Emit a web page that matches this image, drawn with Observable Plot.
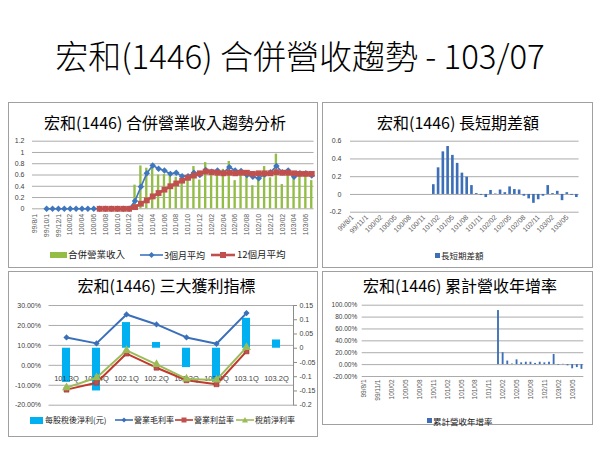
<!DOCTYPE html>
<html><head><meta charset="utf-8">
<script src="https://cdn.jsdelivr.net/npm/d3@7"></script>
<script src="https://cdn.jsdelivr.net/npm/@observablehq/plot@0.6"></script>
<style>
body{margin:0;background:#fff;width:600px;height:450px;position:relative;overflow:hidden;font-family:"Noto Sans CJK TC","Noto Sans",sans-serif;}
.panel{position:absolute;border:1px solid #a0a0a0;box-sizing:border-box;}
.ttl{position:absolute;white-space:nowrap;transform:translate(-50%,-50%);color:#000;line-height:1;}
.lg{position:absolute;white-space:nowrap;transform:translateY(-50%);color:#222;line-height:1;}
svg.sw{position:absolute;overflow:visible;}
</style></head><body>
<script>
// ---------- DATA ----------
const months = ["99/8/1","99/9/1","99/10/1","99/11/1","99/12/1",
"100/01","100/02","100/03","100/04","100/05","100/06","100/07","100/08","100/09","100/10","100/11","100/12",
"101/01","101/02","101/03","101/04","101/05","101/06","101/07","101/08","101/09","101/10","101/11","101/12",
"102/01","102/02","102/03","102/04","102/05","102/06","102/07","102/08","102/09","102/10","102/11","102/12",
"103/01","103/02","103/03","103/04","103/05","103/06","103/07"];
const ticks2m = ["99/8/1","99/10/1","99/12/1","100/02","100/04","100/06","100/08","100/10","100/12","101/02","101/04","101/06","101/08","101/10","101/12","102/02","102/04","102/06","102/08","102/10","102/12","103/02","103/04","103/06"];
const ticks3m = ["99/8/1","99/11/1","100/02","100/05","100/08","100/11","101/02","101/05","101/08","101/11","102/02","102/05","102/08","102/11","103/02","103/05"];
const N = null;
const revenue = [N,N,N,N,N,N,N,N,N,N,N,N,N,N,N,N,N,
0.42,0.76,0.72,0.78,0.60,0.61,0.63,0.56,0.57,0.60,0.75,0.51,
0.82,0.64,0.68,0.70,0.84,0.50,0.68,0.62,0.41,0.66,0.75,0.55,
0.97,0.43,0.62,0.60,0.65,0.64,0.50];
const avg3 = [N,N,0,0,0,0,0,0,0,0,0,0,0,0,0,0,0,
0.14,0.39,0.63,0.77,0.71,0.68,0.62,0.64,0.58,0.58,0.64,0.60,
0.69,0.66,0.68,0.64,0.74,0.68,0.67,0.60,0.57,0.54,0.61,0.65,
0.76,0.65,0.68,0.57,0.63,0.63,0.59];
const avg12 = [N,N,N,N,N,N,N,N,N,N,N,0,0,0,0,0,0,
0.03,0.09,0.15,0.22,0.28,0.34,0.40,0.45,0.50,0.55,0.59,0.63,
0.66,0.65,0.64,0.63,0.64,0.63,0.64,0.64,0.62,0.63,0.63,0.63,
0.65,0.64,0.64,0.63,0.62,0.62,0.62];
const diff = [N,N,N,N,N,N,N,N,N,N,N,N,N,N,N,N,N,
0.11,0.30,0.48,0.54,0.44,0.35,0.24,0.195,0.10,0.01,-0.01,-0.035,
0.045,0.005,0.05,0.02,0.085,0.055,0.05,-0.02,-0.05,-0.10,-0.06,-0.02,
0.10,0.01,0.035,-0.07,0.02,-0.01,-0.035];
const cumYoY = [N,N,N,N,N,N,N,N,N,N,N,N,N,N,N,N,N,N,N,N,N,N,N,N,N,N,N,N,N,
0.91,0.20,0.06,0.01,0.08,0.03,0.04,0.04,0.02,0.04,0.03,0.04,
0.17,-0.01,0.005,-0.02,-0.07,-0.05,-0.08];

const quarters = ["101.3Q","101.4Q","102.1Q","102.2Q","102.3Q","102.4Q","103.1Q","103.2Q"];
const eps   = [-0.12,-0.15,0.09,0.02,-0.068,-0.12,0.105,0.029];
const gross = [0.14,0.11,0.255,0.205,0.14,0.108,0.262,N];
const opm   = [-0.122,-0.087,0.059,-0.012,-0.075,-0.095,0.07,N];
const ptm   = [-0.112,-0.062,0.075,0.005,-0.068,-0.073,0.09,N];

const c1YTicks = [0,0.2,0.4,0.6,0.8,1,1.2];
const c2YTicks = [-0.2,0,0.2,0.4,0.6];
const c3LTicks = [-0.2,-0.1,0,0.1,0.2,0.3];
const c3RTicks = [-0.2,-0.15,-0.1,-0.05,0,0.05,0.1,0.15];
const c4YTicks = [-0.2,0,0.2,0.4,0.6,0.8,1];

// ---------- helpers ----------
const body = document.body;
function div(cls, css, html){const d=document.createElement("div");d.className=cls;Object.assign(d.style,css);if(html!=null)d.innerHTML=html;body.appendChild(d);return d;}
function place(svg,left,top){svg.style.position="absolute";svg.style.left=left+"px";svg.style.top=top+"px";body.appendChild(svg);}
function txt(x,y,s,size,extra){return div("lg",Object.assign({left:x+"px",top:y+"px",fontSize:size+"px"},extra||{}),s);}
function swatch(x,y,w,h,inner){const s=document.createElementNS("http://www.w3.org/2000/svg","svg");s.setAttribute("class","sw");s.setAttribute("width",w);s.setAttribute("height",h);s.style.left=x+"px";s.style.top=(y-h/2)+"px";s.innerHTML=inner;body.appendChild(s);}
const pct = d => (d*100).toFixed(2)+"%";
const str = d => String(d);
const baseStyle = {background:"transparent",overflow:"visible",fontFamily:"'Liberation Sans',Arial,sans-serif",fontSize:"7px",color:"#404040"};
const GRID = "#ababab";

// ---------- slide title & panels ----------
div("ttl",{left:"300px",top:"55px",fontSize:"33px",fontWeight:"300"},"宏和(1446) 合併營收趨勢 - 103/07");
div("panel",{left:"8px",top:"102px",width:"310px",height:"166px"});
div("panel",{left:"322px",top:"102px",width:"271px",height:"166px"});
div("panel",{left:"8px",top:"271px",width:"310px",height:"166px"});
div("panel",{left:"322px",top:"271px",width:"271px",height:"154px"});

// ---------- Chart 1 ----------
const d1 = months.map((m,i)=>({m, rev:revenue[i], a3:avg3[i], a12:avg12[i]}));
place(Plot.plot({
  width:310,height:166,marginLeft:24,marginRight:4.4,marginTop:38.7,marginBottom:59.7,
  style:baseStyle,
  x:{type:"band",domain:months,paddingInner:0.6,paddingOuter:0.2,axis:null},
  y:{domain:[0,1.2],axis:null},
  marks:[
    Plot.gridY(c1YTicks,{stroke:GRID,strokeOpacity:1}),
    Plot.axisY(c1YTicks,{tickSize:0,tickPadding:8,tickFormat:str,fontSize:7,label:null}),
    Plot.axisX(ticks2m,{tickSize:0,tickPadding:5,tickRotate:-90,fontSize:7,fill:"#595959",label:null}),
    Plot.barY(d1,{x:"m",y:"rev",fill:"#93bd45"}),
    Plot.line(d1,{x:"m",y:"a3",stroke:"#3f76bd",strokeWidth:1.6}),
    Plot.dot(d1,{x:"m",y:"a3",symbol:"diamond2",r:2.9,fill:"#3f76bd"}),
    Plot.line(d1,{x:"m",y:"a12",stroke:"#c0504d",strokeWidth:2.6}),
    Plot.dot(d1,{x:"m",y:"a12",symbol:"square",r:3.3,fill:"#c0504d"})
  ]}),8,102);
div("ttl",{left:"165px",top:"122px",fontSize:"16px"},"宏和(1446) 合併營業收入趨勢分析");
swatch(50,255,17,6,'<rect width="17" height="6" fill="#93bd45"/>');
txt(68,255,"合併營業收入",9.5);
swatch(140,255,23,8,'<line x1="0" y1="4" x2="23" y2="4" stroke="#3f76bd" stroke-width="1.6"/><path d="M11.5,1 L14.5,4 L11.5,7 L8.5,4Z" fill="#3f76bd"/>');
txt(164,255,"3個月平均",9);
swatch(211,255,24,8,'<line x1="0" y1="4" x2="24" y2="4" stroke="#c0504d" stroke-width="2.6"/><rect x="9" y="1" width="6" height="6" fill="#c0504d"/>');
txt(237,255,"12個月平均",9.5);

// ---------- Chart 2 ----------
const d2 = months.map((m,i)=>({m, v:diff[i]}));
place(Plot.plot({
  width:271,height:166,marginLeft:28,marginRight:14.4,marginTop:38.7,marginBottom:56.3,
  style:baseStyle,
  x:{type:"band",domain:months,paddingInner:0.45,paddingOuter:0.2,axis:null},
  y:{domain:[-0.2,0.6],axis:null},
  marks:[
    Plot.gridY(c2YTicks,{stroke:GRID,strokeOpacity:1}),
    Plot.axisY(c2YTicks,{tickSize:0,tickPadding:9,tickFormat:str,fontSize:7,label:null}),
    Plot.axisX(ticks3m,{tickSize:0,tickPadding:4,tickRotate:-45,fontSize:7,fill:"#595959",label:null}),
    Plot.barY(d2,{x:"m",y:"v",fill:"#3d6fb8"})
  ]}),322,102);
div("ttl",{left:"458px",top:"121.5px",fontSize:"16px"},"宏和(1446) 長短期差額");
swatch(435,255,5,5,'<rect width="5" height="5" fill="#3d6fb8"/>');
txt(441,255,"長短期差額",8.5);

// ---------- Chart 3 ----------
const d3q = quarters.map((q,i)=>({q, eps:eps[i], gross:gross[i], opm:opm[i], ptm:ptm[i]}));
const c3x = {type:"band",domain:quarters,paddingInner:0.72,paddingOuter:0.36,axis:null};
const c3m = {width:310,height:166,marginLeft:40.5,marginRight:25,marginTop:34,marginBottom:32.3,style:baseStyle};
// layer A: grid + left axis
place(Plot.plot({...c3m, x:c3x, y:{domain:[-0.2,0.3],axis:null},
  marks:[
    Plot.gridY(c3LTicks,{stroke:GRID,strokeOpacity:1}),
    Plot.axisY(c3LTicks,{tickSize:0,tickPadding:8,tickFormat:pct,fontSize:7,label:null})
  ]}),8,271);
// layer B: EPS bars + right axis
place(Plot.plot({...c3m, x:c3x, y:{domain:[-0.2,0.15],axis:null},
  marks:[
    Plot.barY(d3q,{x:"q",y:"eps",fill:"#00b0f0"}),
    Plot.frame({anchor:"right",stroke:"#8c8c8c"}),
    Plot.axisY(c3RTicks,{anchor:"right",tickSize:3,tickPadding:3,tickFormat:str,fontSize:7,stroke:"#8c8c8c",label:null})
  ]}),8,271);
// layer C: lines + category labels
place(Plot.plot({...c3m, x:c3x, y:{domain:[-0.2,0.3],axis:null},
  marks:[
    Plot.text(d3q,{x:"q",y:0,dy:13,text:"q",fontSize:7.5,fill:"#404040"}),
    Plot.line(d3q,{x:"q",y:"gross",stroke:"#3a6fba",strokeWidth:2}),
    Plot.dot(d3q,{x:"q",y:"gross",symbol:"diamond2",r:2.8,fill:"#3a6fba"}),
    Plot.line(d3q,{x:"q",y:"opm",stroke:"#c0392b",strokeWidth:2}),
    Plot.dot(d3q,{x:"q",y:"opm",symbol:"square",r:2.8,fill:"#c0504d",stroke:"#9e3432",strokeWidth:0.6}),
    Plot.line(d3q,{x:"q",y:"ptm",stroke:"#9bbb59",strokeWidth:2}),
    Plot.dot(d3q,{x:"q",y:"ptm",symbol:"triangle",r:3.3,fill:"#9bbb59"})
  ]}),8,271);
div("ttl",{left:"166.5px",top:"285px",fontSize:"16px"},"宏和(1446) 三大獲利指標");
swatch(30,420,13,7,'<rect width="13" height="7" fill="#00b0f0"/>');
txt(45,420,"每股稅後淨利(元)",8);
swatch(115,420,18,6,'<line x1="0" y1="3" x2="18" y2="3" stroke="#3a6fba" stroke-width="1.6"/><path d="M9,0.5 L11.5,3 L9,5.5 L6.5,3Z" fill="#3a6fba"/>');
txt(134,420,"營業毛利率",8);
swatch(175,420,18,6,'<line x1="0" y1="3" x2="18" y2="3" stroke="#c0392b" stroke-width="1.6"/><rect x="6.5" y="0.5" width="5" height="5" fill="#c0504d"/>');
txt(194,420,"營業利益率",8);
swatch(236,420,18,6,'<line x1="0" y1="3" x2="18" y2="3" stroke="#9bbb59" stroke-width="1.6"/><path d="M9,0 L12,5.5 L6,5.5Z" fill="#9bbb59"/>');
txt(255,420,"稅前淨利率",8);

// ---------- Chart 4 ----------
const d4 = months.map((m,i)=>({m, v:cumYoY[i]}));
place(Plot.plot({
  width:271,height:154,marginLeft:39.7,marginRight:9.7,marginTop:33.7,marginBottom:49,
  style:baseStyle,
  x:{type:"band",domain:months,paddingInner:0.6,paddingOuter:0.2,axis:null},
  y:{domain:[-0.2,1],axis:null},
  marks:[
    Plot.gridY(c4YTicks,{stroke:GRID,strokeOpacity:1}),
    Plot.axisY(c4YTicks,{tickSize:0,tickPadding:5,tickFormat:pct,fontSize:6.5,label:null}),
    Plot.axisX(ticks3m,{tickSize:0,tickPadding:3,tickRotate:-90,fontSize:6.5,fill:"#595959",label:null}),
    Plot.barY(d4,{x:"m",y:"v",fill:"#3d6fb8"})
  ]}),322,271);
div("ttl",{left:"460px",top:"285px",fontSize:"16px"},"宏和(1446) 累計營收年增率");
swatch(427,420.5,5,5,'<rect width="5" height="5" fill="#3d6fb8"/>');
txt(433,420.5,"累計營收年增率",8.5);
</script>
</body></html>
